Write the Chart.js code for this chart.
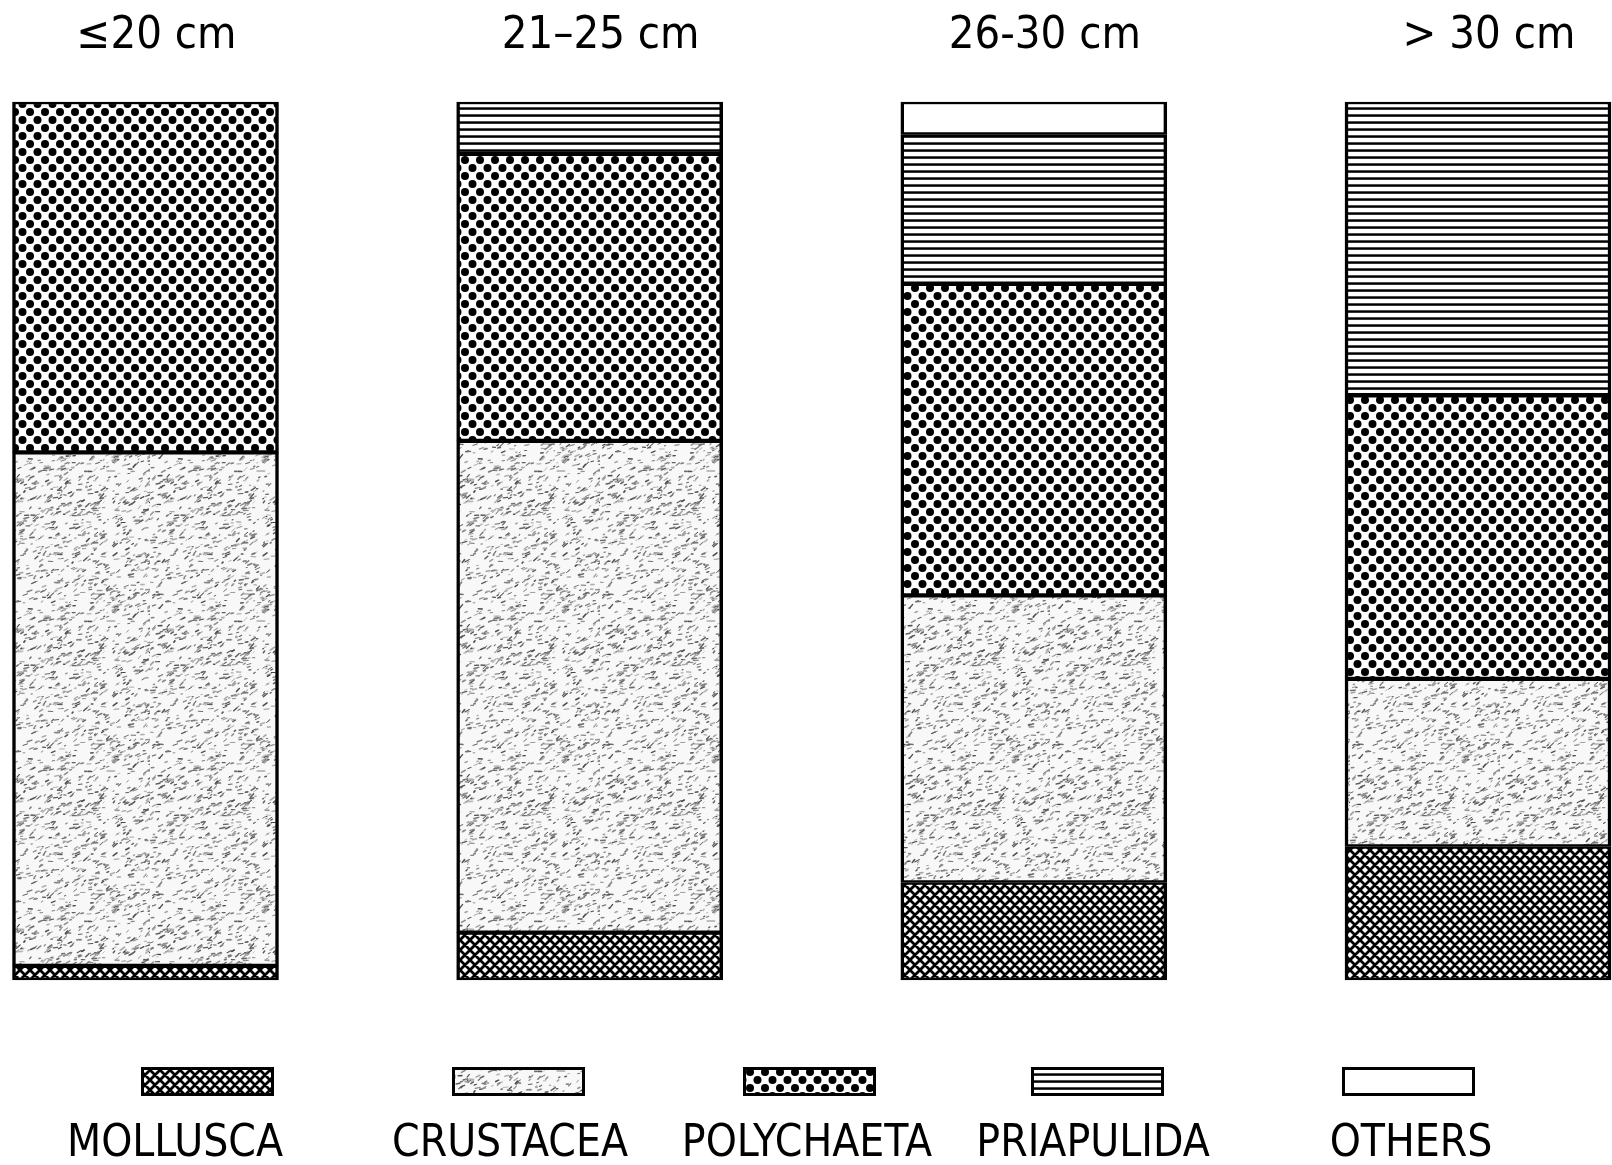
<!DOCTYPE html>
<html lang="en">
<head>
  <meta charset="UTF-8">
  <title>Food composition by length class</title>
  <script src="https://cdn.jsdelivr.net/npm/chart.js"></script>
  <style>
    html, body { margin: 0; padding: 0; background: #fff; overflow: hidden; }
    canvas { display: block; }
  </style>
</head>
<body>
  <canvas id="dietChart" width="1612" height="1165"></canvas>

  <script>
    // length classes (x categories) and % share of each prey group
    const sizeClasses = ["≤20 cm", "21–25 cm", "26-30 cm", "> 30 cm"];
    const mollusca   = [1.6, 5.4, 11.1, 15.2];
    const crustacea  = [58.5, 56.0, 32.7, 19.1];
    const polychaeta = [39.9, 32.7, 35.5, 32.3];
    const priapulida = [null, 5.9, 17.0, 33.4];
    const others     = [null, null, 3.7, null];
    const groupNames = ["MOLLUSCA", "CRUSTACEA", "POLYCHAETA", "PRIAPULIDA", "OTHERS"];

    const FONT = "'Liberation Sans Narrow', 'DejaVu Sans Condensed', 'DejaVu Sans', sans-serif";

    // ---- hatch patterns ----
    function makeTile(w, h, draw) {
      const c = document.createElement("canvas");
      c.width = w; c.height = h;
      const g = c.getContext("2d");
      g.fillStyle = "#fff";
      g.fillRect(0, 0, w, h);
      draw(g, w, h);
      return document.createElement("canvas").getContext("2d").createPattern(c, "repeat");
    }

    const crossHatch = makeTile(10, 10, (g, w, h) => {
      g.strokeStyle = "#000";
      g.lineWidth = 2.8;
      g.beginPath();
      for (let k = -1; k <= 1; k++) {
        g.moveTo(k * w, 0); g.lineTo(k * w + w, h);
        g.moveTo(k * w, h); g.lineTo(k * w + w, 0);
      }
      g.stroke();
    });

    const stipple = makeTile(150, 150, (g, w, h) => {
      // deterministic speckle texture
      const hash = n => { const s = Math.sin(n * 127.1 + 311.7) * 43758.5453; return s - Math.floor(s); };
      g.fillStyle = "#f8f8f8";
      g.fillRect(0, 0, w, h);
      g.lineCap = "round";
      for (let i = 0; i < 800; i++) {
        const x = hash(i * 3.1) * w, y = hash(i * 7.7 + 1) * h;
        const len = 1 + hash(i * 11.3 + 2) * 4;
        const a = -0.9 + hash(i * 5.9 + 3) * 1.0;
        const shade = 70 + Math.floor(hash(i * 2.3 + 4) * 120);
        g.strokeStyle = `rgb(${shade},${shade},${shade})`;
        g.lineWidth = 0.9 + hash(i * 13.7 + 5) * 0.8;
        g.beginPath();
        g.moveTo(x, y);
        g.lineTo(x + Math.cos(a) * len, y + Math.sin(a) * len);
        g.stroke();
      }
    });

    const dots = makeTile(15, 16, (g, w, h) => {
      g.fillStyle = "#000";
      [[0, 0], [w, 0], [0, h], [w, h], [w / 2, h / 2]].forEach(([x, y]) => {
        g.beginPath();
        g.arc(x, y, 4, 0, Math.PI * 2);
        g.fill();
      });
    });

    const lines = makeTile(20, 7, (g, w, h) => {
      g.fillStyle = "#000";
      g.fillRect(0, 2.3, w, 2.5);
    });

    const fills = [crossHatch, stipple, dots, lines, "#fff"];

    const series = [mollusca, crustacea, polychaeta, priapulida, others];
    const datasets = series.map((vals, i) => ({
      label: groupNames[i],
      data: vals,
      backgroundColor: fills[i],
      borderColor: "#000",
      borderWidth: { left: 3.5, right: 3.5, top: 2.5, bottom: 2.5 },
      borderSkipped: false,
      barThickness: 266,
      clip: false
    }));

    // legend drawn below the plot: pattern box with the name underneath
    const legendBoxX = [141, 452, 743, 1031, 1342];
    const legendTextX = [175, 510, 807, 1093, 1411];
    const bottomLegend = {
      id: "bottomLegend",
      afterDraw(chart) {
        const ctx = chart.ctx;
        ctx.save();
        datasets.forEach((ds, i) => {
          ctx.fillStyle = ds.backgroundColor;
          ctx.fillRect(legendBoxX[i], 1067, 133, 29);
          ctx.strokeStyle = "#000";
          ctx.lineWidth = 3;
          ctx.strokeRect(legendBoxX[i] + 1.5, 1068.5, 130, 26);
          ctx.fillStyle = "#000";
          ctx.font = `44px ${FONT}`;
          ctx.textAlign = "center";
          ctx.textBaseline = "middle";
          ctx.fillText(ds.label, legendTextX[i], 1145);
        });
        ctx.restore();
      }
    };

    new Chart(document.getElementById("dietChart"), {
      type: "bar",
      data: { labels: sizeClasses, datasets },
      options: {
        responsive: false,
        animation: false,
        layout: { padding: { left: 145.5, right: 134, top: 0, bottom: 185 } },
        plugins: {
          legend: { display: false },
          tooltip: { enabled: false }
        },
        scales: {
          x: {
            position: "top",
            stacked: true,
            offset: false,
            grid: { display: false },
            border: { display: false },
            ticks: {
              color: "#000",
              padding: 35,
              labelOffset: 11,
              font: { family: FONT, size: 45, lineHeight: 1 }
            },
            afterFit: scale => { scale.height = 102; }
          },
          y: {
            display: false,
            stacked: true,
            min: 0,
            max: 100
          }
        }
      },
      plugins: [bottomLegend]
    });
  </script>
</body>
</html>
